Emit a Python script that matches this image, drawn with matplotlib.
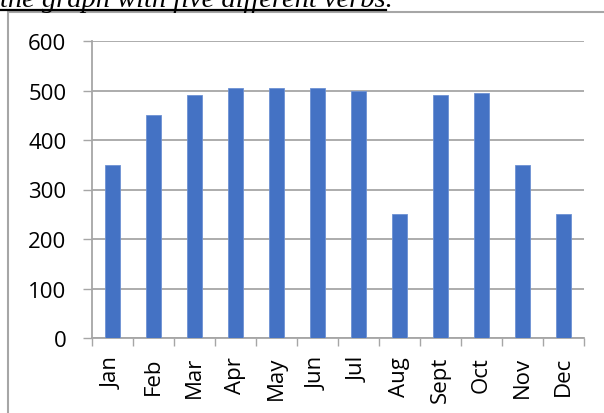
import matplotlib.pyplot as plt
from matplotlib.patches import Rectangle
from matplotlib.lines import Line2D

months = ['Jan', 'Feb', 'Mar', 'Apr', 'May', 'Jun', 'Jul', 'Aug', 'Sept', 'Oct', 'Nov', 'Dec']
values = [350, 450, 490, 505, 505, 505, 500, 250, 490, 495, 350, 250]
yticks = [0, 100, 200, 300, 400, 500, 600]

W, H = 604, 414
plt.rcParams['font.family'] = ['Open Sans', 'DejaVu Sans']
fig = plt.figure(figsize=(W / 100, H / 100), dpi=100)

# page text cut off above the chart
fig.text(0 / W, 1 - 7 / H, 'the graph with five different verbs.', fontsize=20.5,
         family=['Liberation Serif'], style='italic', va='baseline', ha='left')
fig.add_artist(Line2D([0, 386 / W], [1 - 10.5 / H, 1 - 10.5 / H],
                      transform=fig.transFigure, color='black', lw=1.6))

# chart frame
fig.add_artist(Rectangle((8 / W, -0.2), 1.2, 1.2 - 13 / H, transform=fig.transFigure,
                         fill=False, edgecolor='#a6a6a6', lw=1.5))

ax = fig.add_axes([92 / W, 75 / H, (584 - 92) / W, (339 - 42) / H])
x = list(range(len(months)))
ax.bar(x, values, width=0.39, color='#4472C4', edgecolor='#6d91d3', lw=0.6, zorder=3)

ax.set_xlim(-0.5, len(months) - 0.5)
ax.set_ylim(0, 600)
ax.set_yticks(yticks)
ax.set_yticklabels([str(v) for v in yticks], fontsize=16)
ax.set_xticks(x)
ax.set_xticklabels(months, rotation=90, fontsize=16, va='top')
ax.set_xticks([i - 0.5 for i in range(len(months) + 1)], minor=True)

ax.grid(axis='y', color='#a6a6a6', lw=1.3, zorder=0)
for s in ['top', 'right']:
    ax.spines[s].set_visible(False)
for s in ['left', 'bottom']:
    ax.spines[s].set_color('#a6a6a6')
    ax.spines[s].set_linewidth(1.3)

ax.tick_params(axis='y', length=6.5, width=1, color='#a6a6a6', pad=12)
ax.tick_params(axis='x', which='major', length=0, pad=13)
ax.tick_params(axis='x', which='minor', length=6, width=1, color='#a6a6a6')

fig.savefig('out.png', dpi=100)
